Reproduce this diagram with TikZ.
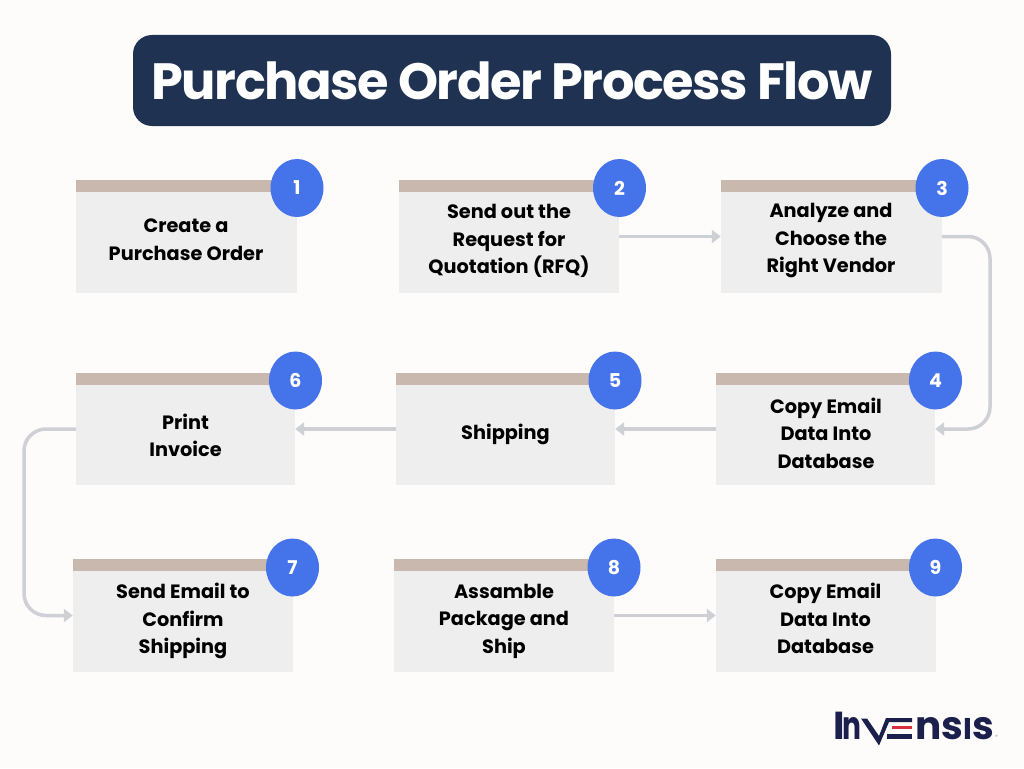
\documentclass[tikz,border=0pt]{standalone}
\usepackage{graphicx}
\usepackage{fontspec}
\setmainfont{Poppins}
\usetikzlibrary{shapes.geometric,arrows.meta}
\definecolor{pagebg}{HTML}{FDFCFB}
\definecolor{navy}{HTML}{1F3251}
\definecolor{boxgrey}{HTML}{EEEEEF}
\definecolor{bandtan}{HTML}{C8B8AD}
\definecolor{badgeblue}{HTML}{4573EA}
\definecolor{flowgrey}{HTML}{CFCFD6}
\definecolor{logonavy}{HTML}{1B1F4B}
\definecolor{logored}{HTML}{D92C3C}
\tikzset{
  stepbox/.style={fill=boxgrey,minimum width=220pt,minimum height=113pt,inner sep=0pt},
  bandbar/.style={fill=bandtan,minimum height=12pt,inner sep=0pt},
  badge/.style={ellipse,fill=badgeblue,text=white,minimum width=53pt,minimum height=58pt,inner sep=0pt,font=\bfseries\fontsize{19}{22}\selectfont},
  steplabel/.style={align=center,inner sep=0pt,text=black,font=\bfseries\fontsize{19.3}{27.5}\selectfont},
  flow/.style={draw=flowgrey,line width=3.5pt,-{Triangle[length=9pt,width=13pt]}},
  logotext/.style={inner sep=0pt,anchor=base west,text=logonavy,font=\bfseries\fontsize{39}{40}\selectfont},
}
\begin{document}
\begin{tikzpicture}[x=1pt,y=-1pt]
\useasboundingbox (0,0) rectangle (1024,768);
\fill[pagebg] (0,0) rectangle (1024,768);
% title
\node[fill=navy,rounded corners=19pt,minimum width=758pt,minimum height=91pt,inner sep=0pt,text=white,font=\bfseries\fontsize{51}{55}\selectfont\addfontfeature{LetterSpace=-2.9}] (title) at (512,80.5) {Purchase Order Process Flow};
% boxes
\node[stepbox,minimum width=221pt] (b1) at (186.5,236.5) {};
\node[stepbox] (b2) at (509,236.5) {};
\node[stepbox,minimum width=221pt] (b3) at (831.5,236.5) {};
\node[stepbox,minimum width=219pt,minimum height=112pt] (b4) at (825.5,429) {};
\node[stepbox,minimum width=219pt,minimum height=112pt] (b5) at (505.5,429) {};
\node[stepbox,minimum width=219pt,minimum height=112pt] (b6) at (185.5,429) {};
\node[stepbox] (b7) at (183,615.5) {};
\node[stepbox] (b8) at (504,615.5) {};
\node[stepbox] (b9) at (826,615.5) {};
% bands
\node[bandbar,minimum width=221pt] (t1) at (186.5,186) {};
\node[bandbar,minimum width=220pt] (t2) at (509,186) {};
\node[bandbar,minimum width=221pt] (t3) at (831.5,186) {};
\node[bandbar,minimum width=219pt] (t4) at (825.5,379) {};
\node[bandbar,minimum width=219pt] (t5) at (505.5,379) {};
\node[bandbar,minimum width=219pt] (t6) at (185.5,379) {};
\node[bandbar,minimum width=220pt] (t7) at (183,565) {};
\node[bandbar,minimum width=220pt] (t8) at (504,565) {};
\node[bandbar,minimum width=220pt] (t9) at (826,565) {};
% labels
\node[steplabel] (l1) at (186,239.5) {Create a\\Purchase Order};
\node[steplabel] (l2) at (509,241) {Send out the\\Request for\\Quotation (RFQ)};
\node[steplabel] (l3) at (831,241) {Analyze and\\Choose the\\Right Vendor};
\node[steplabel] (l4) at (826,433) {Copy Email\\Data Into\\Database};
\node[steplabel] (l5) at (505.5,434) {Shipping};
\node[steplabel] (l6) at (185.5,435.5) {Print\\Invoice};
\node[steplabel] (l7) at (183,621) {Send Email to\\Confirm\\Shipping};
\node[steplabel] (l8) at (504,621) {Assamble\\Package and\\Ship};
\node[steplabel] (l9) at (825.5,618.5) {Copy Email\\Data Into\\Database};
% badges
\node[badge] (n1) at (297,188) {1};
\node[badge] (n2) at (619.5,188) {2};
\node[badge] (n3) at (942,188) {3};
\node[badge] (n4) at (935.5,380.5) {4};
\node[badge] (n5) at (615,380.5) {5};
\node[badge] (n6) at (295.5,380.5) {6};
\node[badge] (n7) at (292.5,567.5) {7};
\node[badge] (n8) at (614,567.5) {8};
\node[badge] (n9) at (935.5,567.5) {9};
% connectors
\coordinate (railR) at (990,0);
\coordinate (railL) at (24,0);
\draw[flow] (b2.east) -- (b3.west);
\draw[flow,rounded corners=22pt] (b3.east) -- (b3.east -| railR) -- (b4.east -| railR) -- (b4.east);
\draw[flow] (b4.west) -- (b5.east);
\draw[flow] (b5.west) -- (b6.east);
\draw[flow,rounded corners=22pt] (b6.west) -- (b6.west -| railL) -- (b7.west -| railL) -- (b7.west);
\draw[flow] (b8.east) -- (b9.west);
% logo
\node[logotext] (logoA) at (833.5,739) {I};
\node[logotext] (logoN) at (842.5,739) {\scalebox{0.72}[1]{n}};
\fill[logonavy] (861,718.5) -- (867,718.5) -- (879,736) -- (886,718) -- (912,718) -- (912,722) -- (889,722) -- (879,745.5) -- cycle;
\fill[logored] (892,725.5) rectangle (912,729);
\fill[logonavy] (887,734) rectangle (912,738.5);
\node[logotext] (logoB) at (915,739) {ns{\fontsize{30}{30}\selectfont I}s};
\node[inner sep=0pt,text=gray,font=\fontsize{4.5}{5}\selectfont] (logoR) at (996.5,736.5) {®};
\end{tikzpicture}
\end{document}
